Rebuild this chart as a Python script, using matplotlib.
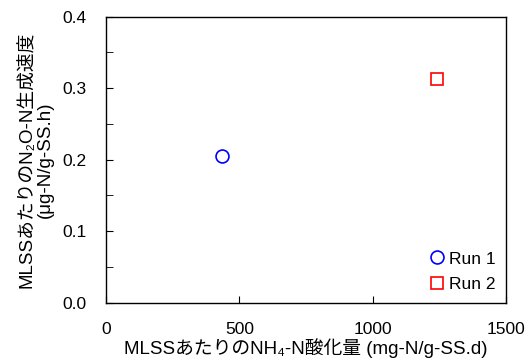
import matplotlib
matplotlib.use("Agg")
import matplotlib.pyplot as plt
from matplotlib.ticker import MultipleLocator

plt.rcParams['font.family'] = ['Liberation Sans', 'Noto Sans CJK JP', 'DejaVu Sans']

# データ
runs = ["Run 1", "Run 2"]
nh4_oxid = [434, 1243]      # mg-N/g-SS.d
n2o_rate = [0.205, 0.313]   # μg-N/g-SS.h

fig = plt.figure(figsize=(5.27, 3.6), dpi=100)
ax = fig.add_axes([0.2011, 0.1597, 0.759, 0.794])

ax.plot(nh4_oxid[0], n2o_rate[0], 'o', ms=9.3, mfc='none', mec='blue', mew=1.2, label=runs[0])
ax.plot(nh4_oxid[1], n2o_rate[1], 's', ms=9.3, mfc='none', mec='red', mew=1.2, label=runs[1])

ax.set_xlim(0, 1500)
ax.set_ylim(0, 0.4)
ax.xaxis.set_major_locator(MultipleLocator(500))
ax.yaxis.set_major_locator(MultipleLocator(0.1))
ax.yaxis.set_minor_locator(MultipleLocator(0.05))
ax.yaxis.set_major_formatter(matplotlib.ticker.FormatStrFormatter('%.1f'))
ax.tick_params(axis='x', which='both', direction='in', length=5, pad=14, labelsize=12.5)
ax.tick_params(axis='y', which='both', direction='in', length=5, pad=14, labelsize=12.5)

for s in ax.spines.values():
    s.set_linewidth(1.0)

ax.set_xlabel("MLSSあたりのNH₄-N酸化量 (mg-N/g-SS.d)", fontsize=13.5, labelpad=1)
ax.set_ylabel("MLSSあたりのN₂O-N生成速度\n(μg-N/g-SS.h)", fontsize=13.5, labelpad=6, linespacing=1.15)

ax.legend(loc='lower right', frameon=False, fontsize=12.5, handletextpad=0.25,
          borderaxespad=0.2, labelspacing=0.6, handlelength=0.9)

fig.savefig("out.png", dpi=100)
